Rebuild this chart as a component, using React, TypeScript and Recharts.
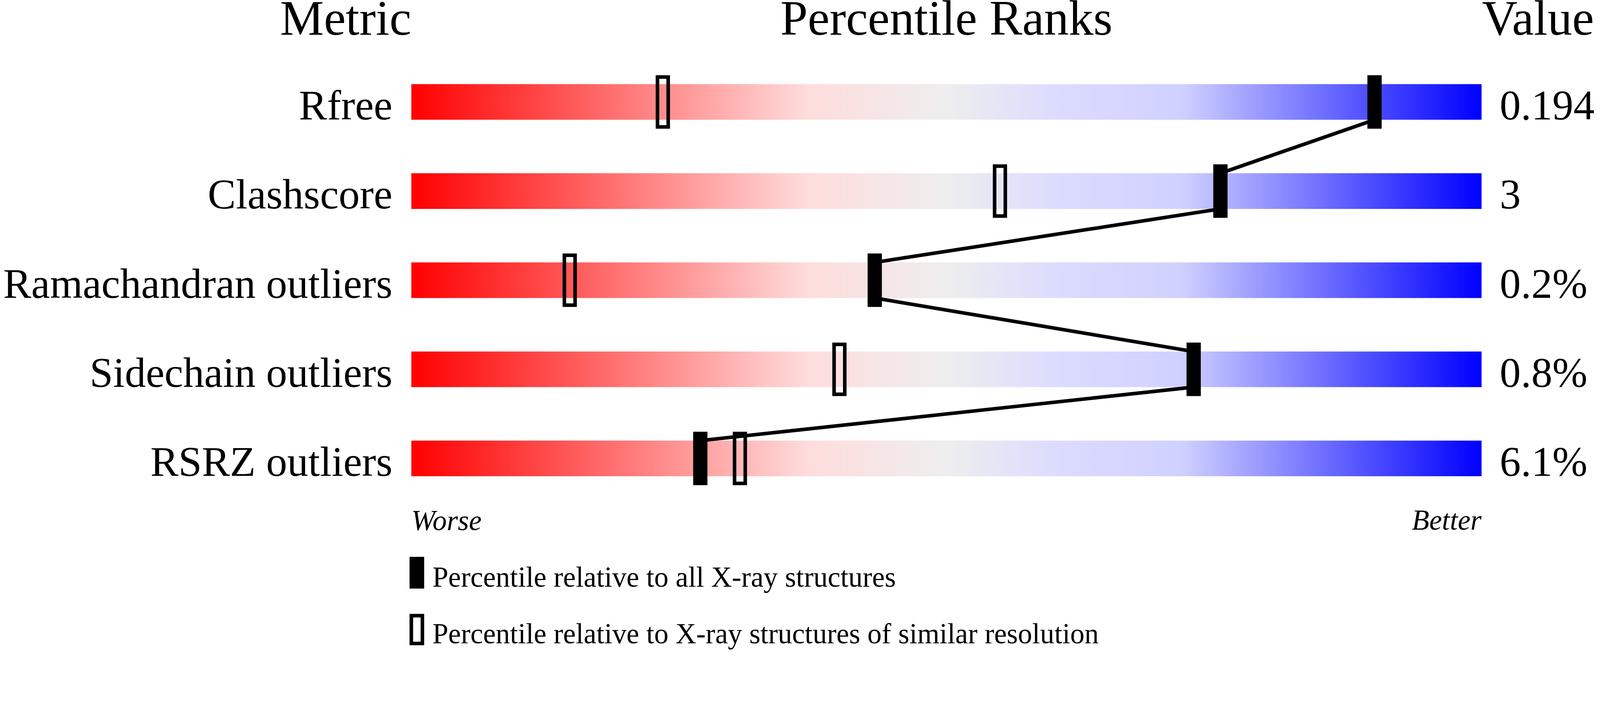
import {
  ScatterChart,
  Scatter,
  XAxis,
  YAxis,
  ReferenceArea,
} from "recharts";

const metrics = [
  "Rfree",
  "Clashscore",
  "Ramachandran outliers",
  "Sidechain outliers",
  "RSRZ outliers",
];
const values = ["0.194", "3", "0.2%", "0.8%", "6.1%"];
// percentile vs all X-ray structures (filled marker)
const allPct = [90, 75.6, 43.3, 73.1, 27];
// percentile vs structures of similar resolution (open marker)
const simPct = [23.5, 55, 14.8, 40, 30.7];

const rowTicks = metrics.map((_, i) => i);
const HALF = 0.2; // half bar height in row units

const FONT = "'Liberation Serif', 'Times New Roman', serif";

// the layout is measured in picture pixels; k maps them to css pixels
const k =
  typeof window !== "undefined" && window.innerWidth > 0
    ? window.innerWidth / 4485
    : 1;

const allData = allPct.map((p, i) => ({ x: p, y: i }));
const simData = simPct.map((p, i) => ({ x: p, y: i }));
const lineData = allPct.flatMap((p, i) => [
  { x: p, y: i - HALF },
  { x: p, y: i + HALF },
]);

const FilledMarker = (props: any) => (
  <rect
    x={props.cx - 20 * k}
    y={props.cy - 75 * k}
    width={40 * k}
    height={150 * k}
    fill="#000"
  />
);

const OpenMarker = (props: any) => (
  <rect
    x={props.cx - 15 * k}
    y={props.cy - 70 * k}
    width={30 * k}
    height={140 * k}
    fill="none"
    stroke="#000"
    strokeWidth={10 * k}
  />
);

const NoShape = () => <g />;

const LabelTick = ({ x, y, payload }: any) => (
  <text x={x} y={y} dy={49 * k} textAnchor="end" fontSize={118 * k} fontFamily={FONT} fill="#000">
    {metrics[payload.value]}
  </text>
);

const ValueTick = ({ x, y, payload }: any) => (
  <text x={x} y={y} dy={49 * k} textAnchor="start" fontSize={118 * k} fontFamily={FONT} fill="#000">
    {values[payload.value]}
  </text>
);

export default function App() {
  const W = 4485 * k;
  const H = 1824 * k;
  return (
    <div style={{ position: "absolute", left: 0, top: 0, width: W, height: H }}>
      <svg width={0} height={0} style={{ position: "absolute" }}>
        <defs>
          <linearGradient id="rankGrad" x1="0" y1="0" x2="1" y2="0">
            <stop offset="0" stopColor="#ff0000" />
            <stop offset="0.37" stopColor="#ffdcdc" />
            <stop offset="0.5" stopColor="#eeeeee" />
            <stop offset="0.6" stopColor="#dcdcff" />
            <stop offset="0.72" stopColor="#d0d0ff" />
            <stop offset="1" stopColor="#0000ff" />
          </linearGradient>
        </defs>
      </svg>
      <ScatterChart
        width={W}
        height={H}
        margin={{ top: 161 * k, right: 0, bottom: 413 * k, left: 0 }}
      >
        <XAxis type="number" dataKey="x" domain={[0, 100]} hide />
        <YAxis
          yAxisId="left"
          type="number"
          dataKey="y"
          domain={[-0.5, 4.5]}
          reversed
          allowDataOverflow
          ticks={rowTicks}
          interval={0}
          width={1153 * k}
          axisLine={false}
          tickLine={false}
          tickSize={0}
          tickMargin={53 * k}
          tick={<LabelTick />}
        />
        <YAxis
          yAxisId="right"
          orientation="right"
          type="number"
          dataKey="y"
          domain={[-0.5, 4.5]}
          reversed
          allowDataOverflow
          ticks={rowTicks}
          interval={0}
          width={332 * k}
          axisLine={false}
          tickLine={false}
          tickSize={0}
          tickMargin={51 * k}
          tick={<ValueTick />}
        />
        {metrics.map((m, i) => (
          <ReferenceArea
            key={m}
            yAxisId="left"
            x1={0}
            x2={100}
            y1={i - HALF}
            y2={i + HALF}
            fill="url(#rankGrad)"
            fillOpacity={1}
            stroke="none"
            ifOverflow="visible"
          />
        ))}
        <Scatter
          yAxisId="left"
          data={simData}
          shape={<OpenMarker />}
          isAnimationActive={false}
        />
        <Scatter
          yAxisId="left"
          data={lineData}
          fill="#000"
          stroke="#000"
          strokeWidth={10 * k}
          line={{ stroke: "#000", strokeWidth: 10 * k, strokeLinejoin: "round" }}
          lineType="joint"
          shape={<NoShape />}
          isAnimationActive={false}
        />
        <Scatter
          yAxisId="left"
          data={allData}
          shape={<FilledMarker />}
          isAnimationActive={false}
        />
      </ScatterChart>
      <svg
        width={W}
        height={H}
        viewBox="0 0 4485 1824"
        style={{ position: "absolute", left: 0, top: 0, pointerEvents: "none" }}
        fontFamily={FONT}
      >
        <text x={1153} y={97} fontSize={138} textAnchor="end">Metric</text>
        <text x={2653} y={97} fontSize={138} textAnchor="middle">Percentile Ranks</text>
        <text x={4154} y={97} fontSize={138} textAnchor="start">Value</text>
        <text x={1153} y={1487} fontSize={80} fontStyle="italic">Worse</text>
        <text x={4153} y={1486} fontSize={80} fontStyle="italic" textAnchor="end">Better</text>
        <rect x={1148} y={1562} width={41} height={89} fill="#000" />
        <text x={1212} y={1646} fontSize={80}>Percentile relative to all X-ray structures</text>
        <rect x={1153} y={1727} width={31} height={78} fill="none" stroke="#000" strokeWidth={10} />
        <text x={1212} y={1805} fontSize={80}>
          Percentile relative to X-ray structures of similar resolution
        </text>
      </svg>
    </div>
  );
}
